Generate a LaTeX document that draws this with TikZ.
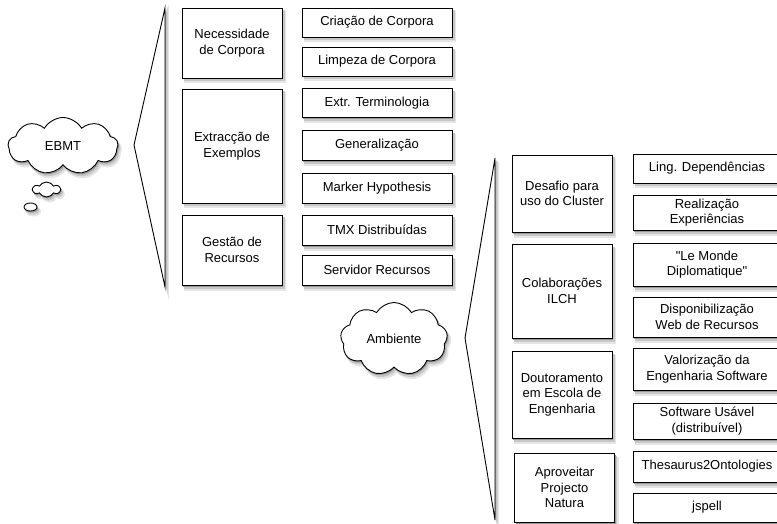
\documentclass[tikz,border=0pt]{standalone}
\usepackage{fontspec}
\newfontfamily\helv{Liberation Sans}
\usetikzlibrary{shapes.symbols,shapes.geometric}
\begin{document}
\begin{tikzpicture}[x=1pt,y=-1pt,
  softshadow/.style={
    preaction={fill=black!10,draw=black!10,line width=2pt,transform canvas={xshift=3pt,yshift=-4.5pt}},
    preaction={fill=black!22,draw=black!22,line width=1pt,transform canvas={xshift=2pt,yshift=-3pt}},
    preaction={fill=black!40,transform canvas={xshift=1pt,yshift=-1.5pt}}},
  box/.style={draw=black,line width=0.9pt,fill=white,softshadow,
    rectangle,inner sep=1pt,align=center,
    font=\helv\fontsize{13}{15.5}\selectfont},
  lbox/.style={box,minimum width=100pt},
  rbox/.style={box,minimum width=150pt},
  fbox/.style={box,minimum width=148pt},
  thought/.style={cloud,draw=black,line width=0.9pt,fill=white,softshadow,
    cloud ignores aspect,cloud puff arc=120,inner sep=0pt,
    font=\helv\fontsize{13}{15.5}\selectfont},
  brace/.style={draw=black,line width=0.9pt,fill=white,softshadow,line join=miter}
]
\useasboundingbox (0,0) rectangle (777,524);

% ---- left group ----
\path[brace] (165,8) -- (134,145) -- (165,287) -- cycle;

\node[thought,cloud puffs=9,minimum width=110pt,minimum height=57pt] (ebmt) at (63,146) {EBMT};
\node[thought,cloud puffs=6,minimum width=27pt,minimum height=15pt] (bub1) at (46.5,189.5) {};
\node[ellipse,draw=black,line width=0.9pt,fill=white,softshadow,inner sep=0pt,minimum width=13pt,minimum height=8pt] (bub2) at (30.5,207) {};

\node[lbox,minimum height=70pt] (nec) at (232,43) {Necessidade\\de Corpora};
\node[lbox,minimum height=114pt] (ext) at (232,146) {Extracção de\\Exemplos};
\node[lbox,minimum height=70pt] (ges) at (232,250) {Gestão de\\Recursos};

\node[rbox,minimum height=29pt] (cri) at (377,22.5) {Criação de Corpora};
\node[rbox,minimum height=29pt] (lim) at (377,61.5) {Limpeza de Corpora};
\node[rbox,minimum height=29pt] (ter) at (377,103) {Extr. Terminologia};
\node[rbox,minimum height=30pt] (gen) at (377,145.5) {Generalização};
\node[rbox,minimum height=30pt] (mar) at (377,188) {Marker Hypothesis};
\node[rbox,minimum height=30pt] (tmx) at (377,230) {TMX Distribuídas};
\node[rbox,minimum height=30pt] (ser) at (377,270) {Servidor Recursos};

% ---- right group ----
\path[brace] (495,158) -- (465,338) -- (495,520) -- cycle;

\node[thought,cloud puffs=9,minimum width=107pt,minimum height=73pt] (amb) at (394,339) {Ambiente};

\node[lbox,minimum height=77pt] (des) at (562,193.5) {Desafio para\\uso do Cluster};
\node[lbox,minimum height=94pt] (col) at (562,291) {Colaborações\\ILCH};
\node[lbox,minimum height=87pt] (dou) at (562,394.5) {Doutoramento\\em Escola de\\Engenharia};
\node[lbox,minimum height=69pt] (apr) at (564.5,487.5) {Aproveitar\\Projecto\\Natura};

\node[fbox,minimum height=29pt] (lin) at (707,168.5) {Ling. Dependências};
\node[fbox,minimum height=35pt] (rea) at (707,212.5) {Realização\\Experiências};
\node[fbox,minimum height=43pt] (mon) at (707,264.5) {"Le Monde\\Diplomatique"};
\node[fbox,minimum height=40pt] (dis) at (707,317) {Disponibilização\\Web de Recursos};
\node[fbox,minimum height=42pt] (val) at (707,369) {Valorização da\\Engenharia Software};
\node[fbox,minimum height=36pt] (sof) at (707,421) {Software Usável\\(distribuível)};
\node[fbox,minimum height=31pt] (the) at (707,466.5) {Thesaurus2Ontologies};
\node[fbox,minimum height=29pt] (jsp) at (707,507.5) {jspell};
\end{tikzpicture}
\end{document}
